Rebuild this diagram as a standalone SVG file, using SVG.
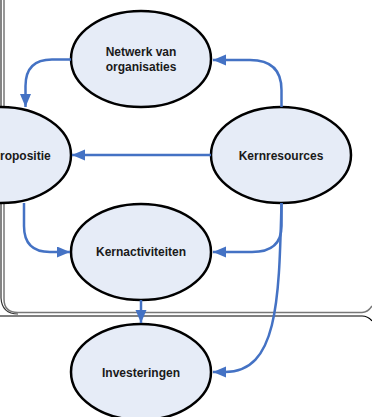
<svg xmlns="http://www.w3.org/2000/svg" width="372" height="417" viewBox="0 0 372 417">
  <style>
    .node ellipse { fill: #E6ECF7; stroke: #000; stroke-width: 2.5; }
    .node text { font-family: "Liberation Sans", Arial, sans-serif; font-weight: bold; font-size: 12px; fill: #1a1a1a; text-anchor: middle; }
    .conn path { fill: none; stroke: #4472C4; stroke-width: 2.5; marker-end: url(#arr); }
  </style>
  <defs>
    <marker id="arr" markerUnits="userSpaceOnUse" markerWidth="14" markerHeight="12" refX="13" refY="5.5" orient="auto">
      <path d="M0,0 L13,5.5 L0,11 z" fill="#4472C4"/>
    </marker>
  </defs>
  <rect width="372" height="417" fill="#fff"/>
  <g id="frames">
    <path d="M1,0 V298 Q2,314 18,314" stroke="#333" stroke-width="1.2" fill="none"/>
    <path d="M4,0 V299 Q4,312.5 18,312.5 H362 Q368,312.5 372,306" stroke="#777" stroke-width="1.5" fill="none"/>
    <path d="M0,316 H362 Q368,316 372,321" stroke="#000" stroke-width="1.2" fill="none"/>
  </g>
  <g id="netwerk" class="node">
    <ellipse cx="141" cy="59" rx="70" ry="48"/>
    <text x="141" y="56">Netwerk van</text>
    <text x="141" y="71">organisaties</text>
  </g>
  <g id="propositie" class="node">
    <ellipse cx="1" cy="155" rx="70" ry="48"/>
    <text x="0" y="159.5" style="text-anchor:start">ropositie</text>
  </g>
  <g id="kernresources" class="node">
    <ellipse cx="281" cy="155" rx="70" ry="48"/>
    <text x="281" y="159.5">Kernresources</text>
  </g>
  <g id="kernactiviteiten" class="node">
    <ellipse cx="141" cy="252" rx="70" ry="48"/>
    <text x="141" y="256">Kernactiviteiten</text>
  </g>
  <g id="investeringen" class="node">
    <ellipse cx="141" cy="372" rx="70" ry="48"/>
    <text x="141" y="376.5">Investeringen</text>
  </g>
  <g id="connectors" class="conn">
    <path d="M281.5,107 L281.5,90 Q281.5,60 250,60 L213,60"/>
    <path d="M71,59.5 L52,59.5 Q25.5,59.5 25.5,86 L25.5,107"/>
    <path d="M211,155 L72,155"/>
    <path d="M24,203 L24,226 Q24,252 50,252 L70,252"/>
    <path d="M281.5,203 L281.5,226 Q281.5,252 252,252 L213,252"/>
    <path d="M281.5,203 C279,300 278,372 225,372 L213,372"/>
    <path d="M141,300 L141,323"/>
  </g>
</svg>
